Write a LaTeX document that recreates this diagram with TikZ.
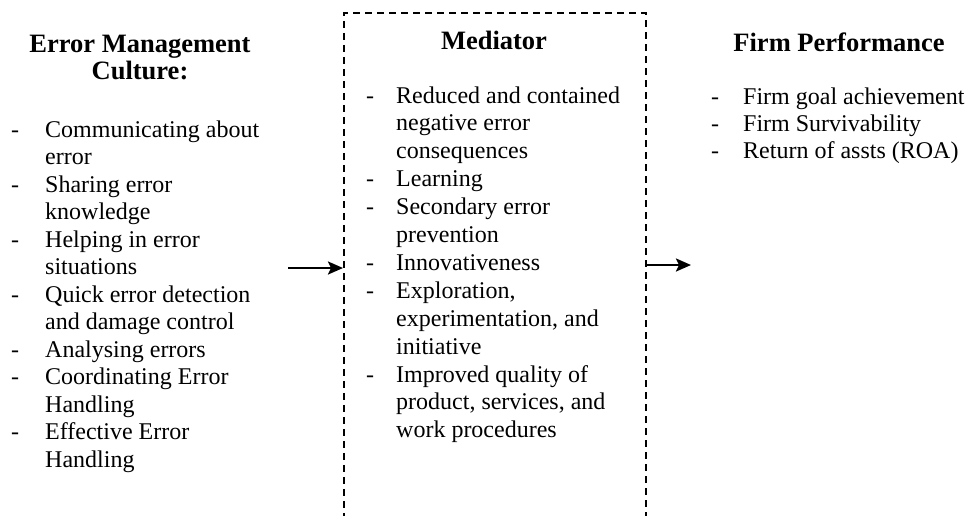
\documentclass[tikz,border=0pt]{standalone}
\usepackage{fontspec}
\setmainfont{Liberation Serif}
\usetikzlibrary{arrows.meta}

\tikzset{
  heading/.style={inner sep=0pt, anchor=base, font=\fontsize{26.5}{27}\selectfont\bfseries},
  itemlist/.style={inner sep=0pt, anchor=base west},
  medbox/.style={draw, line width=1.8pt, dash pattern=on 7pt off 5pt, inner sep=0pt},
  flow/.style={line width=2.4pt, -{Stealth[length=15pt,width=13pt,inset=3pt]}}
}

\begin{document}
\begin{tikzpicture}[x=1pt,y=-1pt]
  \useasboundingbox (0,0) rectangle (969,515);
  \clip (0,0) rectangle (969,515);

  % mediator frame, open past the bottom edge
  \node[medbox, minimum width=302pt, minimum height=540pt, anchor=north west] (med) at (343,12) {};

  % headings
  \node[heading] (hemc) at (140,52)
    {\begin{tabular}[t]{@{}c@{}}Error Management\\Culture:\end{tabular}};
  \node[heading] (hmed) at (494,49) {Mediator};
  \node[heading] (hfp)  at (839,51) {Firm Performance};

  % error management culture items
  \node[itemlist] (emc) at (11,137)
    {\fontsize{24}{27.5}\selectfont
     \begin{tabular}[t]{@{}p{34pt}@{}l@{}}
     - & Communicating about\\
       & error\\
     - & Sharing error\\
       & knowledge\\
     - & Helping in error\\
       & situations\\
     - & Quick error detection\\
       & and damage control\\
     - & Analysing errors\\
     - & Coordinating Error\\
       & Handling\\
     - & Effective Error\\
       & Handling
     \end{tabular}};

  % mediator items
  \node[itemlist] (medlist) at (366,103)
    {\fontsize{24}{27.9}\selectfont
     \begin{tabular}[t]{@{}p{30pt}@{}l@{}}
     - & Reduced and contained\\
       & negative error\\
       & consequences\\
     - & Learning\\
     - & Secondary error\\
       & prevention\\
     - & Innovativeness\\
     - & Exploration,\\
       & experimentation, and\\
       & initiative\\
     - & Improved quality of\\
       & product, services, and\\
       & work procedures
     \end{tabular}};

  % firm performance items
  \node[itemlist] (fplist) at (711,104)
    {\fontsize{24}{27.2}\selectfont
     \begin{tabular}[t]{@{}p{32pt}@{}l@{}}
     - & Firm goal achievement\\
     - & Firm Survivability\\
     - & Return of assts (ROA)
     \end{tabular}};

  % connectors
  \coordinate (into) at (288,268);
  \coordinate (outof) at (691,265);
  \draw[flow] (into) -- (into -| med.west);
  \draw[flow] (outof -| med.east) -- (outof);
\end{tikzpicture}
\end{document}
